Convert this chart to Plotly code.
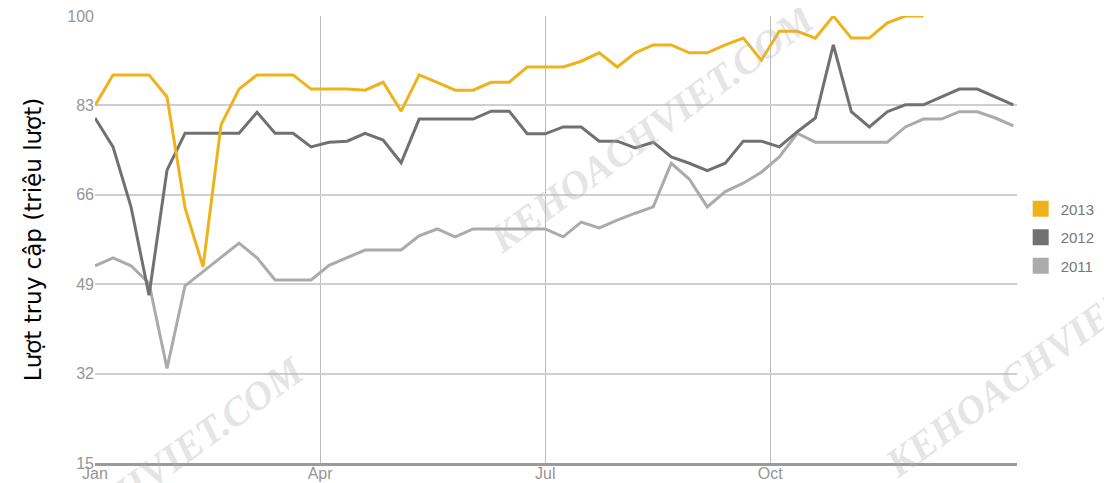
import plotly.graph_objects as go

# ---- data (million visits, weekly points) ----
weeks = list(range(52))
tick_labels = ["Jan", "Apr", "Jul", "Oct"]
tick_positions = [0, 12.5, 25, 37.5]
y_ticks = [15, 32, 49, 66, 83, 100]

v2013 = [83.0, 88.8, 88.8, 88.8, 84.6, 63.5, 52.3, 79.3, 86.1, 88.8,
         88.8, 88.8, 86.1, 86.1, 86.1, 85.9, 87.4, 81.9, 88.8, 87.4,
         85.9, 85.9, 87.4, 87.4, 90.3, 90.3, 90.3, 91.4, 93.0, 90.3,
         93.0, 94.5, 94.5, 93.0, 93.0, 94.5, 95.8, 91.6, 97.1, 97.1,
         95.8, 100.0, 95.8, 95.8, 98.7, 100.0, 100.0]
v2012 = [80.6, 75.1, 63.7, 46.9, 70.7, 77.7, 77.7, 77.7, 77.7, 81.7,
         77.7, 77.7, 75.1, 76.0, 76.2, 77.7, 76.4, 72.1, 80.4, 80.4,
         80.4, 80.4, 81.9, 81.9, 77.6, 77.6, 78.9, 78.9, 76.2, 76.2,
         74.9, 76.0, 73.2, 72.0, 70.6, 72.0, 76.2, 76.2, 75.1, 78.0,
         80.6, 94.5, 81.8, 78.9, 81.8, 83.1, 83.1, 84.6, 86.1, 86.1,
         84.6, 83.1]
v2011 = [52.5, 54.0, 52.5, 49.2, 33.0, 48.7, 51.4, 54.1, 56.8, 54.0,
         49.8, 49.8, 49.8, 52.6, 54.0, 55.5, 55.5, 55.5, 58.2, 59.5,
         58.0, 59.5, 59.5, 59.5, 59.5, 59.5, 58.0, 60.8, 59.7, 61.2,
         62.5, 63.7, 72.0, 69.0, 63.7, 66.6, 68.2, 70.3, 73.2, 77.7,
         76.0, 76.0, 76.0, 76.0, 76.0, 78.9, 80.4, 80.4, 81.8, 81.8,
         80.6, 79.1]

series_names = ["2013", "2012", "2011"]
series_values = [v2013, v2012, v2011]
colors = ["#EEB31A", "#717171", "#ABABAB"]

fig = go.Figure()

# lines (drawn 2011 first so 2013 is on top)
for name, vals, col in reversed(list(zip(series_names, series_values, colors))):
    fig.add_trace(go.Scatter(
        x=weeks[:len(vals)], y=vals, mode="lines", name=name,
        line=dict(color=col, width=3), showlegend=False,
        hoverinfo="x+y+name"))

# square legend entries
for i, (name, col) in enumerate(zip(series_names, colors)):
    fig.add_trace(go.Scatter(
        x=[None], y=[None], mode="markers", name=name,
        marker=dict(symbol="square", size=16, color=col),
        legendgroup=f"g{i}", showlegend=True))

tick_font = dict(family="Liberation Sans, Arial, sans-serif", size=16, color="#969696")

fig.update_layout(
    width=1112, height=483,
    margin=dict(l=87, r=103, t=8, b=28),
    paper_bgcolor="white", plot_bgcolor="white",
    showlegend=True,
    legend=dict(x=1.004, xanchor="left", y=0.605, yanchor="top",
                font=dict(family="Liberation Sans, Arial, sans-serif", size=15, color="#777777"),
                tracegroupgap=6, bgcolor="rgba(0,0,0,0)"),
    xaxis=dict(range=[0, 51.2], tickvals=tick_positions, ticktext=tick_labels,
               showgrid=True, gridcolor="#bdbdbd", gridwidth=1,
               showline=True, linecolor="#9a9a9a", linewidth=3,
               zeroline=False, ticks="", tickfont=tick_font, automargin=False,
               ticklabeloverflow="allow", ticklabelstandoff=-6),
    yaxis=dict(range=[15, 100], tickvals=y_ticks,
               showgrid=True, gridcolor="#cfcfcf", gridwidth=1.5,
               showline=False, zeroline=False, ticks="", tickfont=tick_font,
               automargin=False, ticklabeloverflow="allow",
               title=dict(text="Lượt truy cập (triệu lượt)", standoff=19,
                          font=dict(family="DejaVu Sans, Noto Sans, sans-serif", size=23, color="#000000"))),
)

# watermarks
wm_font = dict(family="Liberation Serif, DejaVu Serif, serif", size=40, color="rgba(180,180,180,0.35)")
for (wx, wy) in [(0.604, 0.749), (0.05, -0.04), (1.033, 0.246)]:
    fig.add_annotation(text="<b><i>KEHOACHVIET.COM</i></b>", x=wx, y=wy, xref="paper", yref="paper",
                       xanchor="center", yanchor="middle",
                       showarrow=False, textangle=-36, font=wm_font)

fig.write_html("out.html")
